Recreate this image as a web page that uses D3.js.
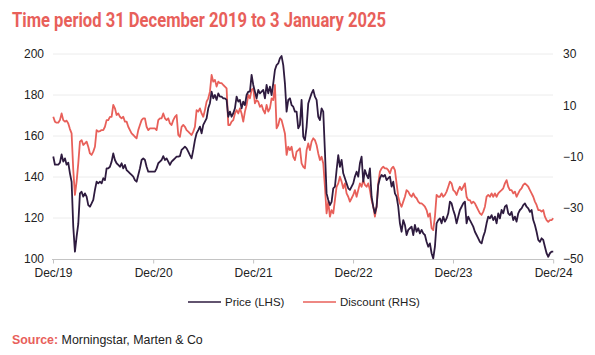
<!DOCTYPE html>
<html>
<head>
<meta charset="utf-8">
<script src="https://cdn.jsdelivr.net/npm/d3@7"></script>
<style>
  html, body { margin: 0; padding: 0; background: #fff; }
  svg { display: block; }
</style>
</head>
<body>
<svg id="chart" width="595" height="355"></svg>
<script>
// ---- DATA ----
const titleText = "Time period 31 December 2019 to 3 January 2025";
const seriesNames = ["Price (LHS)", "Discount (RHS)"];
const startDate = "2020-01-01";          // first sample
const endDate = "2025-01-03";
const sampleStepDays = 6.0875;           // ~weekly samples
const xTickDates = ["2019-12-31", "2020-12-31", "2021-12-31", "2022-12-31", "2023-12-31", "2024-12-31"];
const xTickLabels = ["Dec/19", "Dec/20", "Dec/21", "Dec/22", "Dec/23", "Dec/24"];
const leftTicks = [100, 120, 140, 160, 180, 200];
const rightTicks = [-50, -30, -10, 10, 30];

const price = [
  150,146,146,146,147,151,147.5,149.1,146,147,141.8,137.7,115.8,103.6,110.9,117.1,132,132.8,130.4,132,
  130.4,126.3,125.5,127.1,128.8,133.7,137.7,136.9,137.7,136.9,139.4,138.5,144.2,144.2,145,147.5,151.5,148.3,146.7,145.9,
  145,146.7,144.2,145.9,143.4,142.6,141.8,141,140.2,138.5,137.7,141,144.2,148.3,149.1,148.3,145,142.6,142.6,142.6,
  142.6,142.6,144.2,146.7,147.5,148.3,150.2,148.3,149.1,147.5,145.9,147.5,148.3,149.1,149.9,149.9,150.2,
  153.2,154,154.8,154,152.4,150.7,149.1,153.2,158,161.3,162.9,164.6,161.3,165.4,167,168.6,173.5,176,181.6,178.4,
  180,177.6,180.8,179.2,179.2,178.4,178.4,177.6,169.4,171.9,169.4,171.1,173.5,179.2,176.8,177.6,173.5,176.8,175.1,180,
  181.6,181.6,189.8,184.9,181.6,178.4,182.5,180.8,181.6,182.5,178.4,184.9,180.8,184.1,180,185.7,192.2,194.6,195.4,197.9,
  199,194.6,185.7,171.9,177.6,178.4,175.1,174.3,171.9,171.9,163.7,165.4,177.6,159.7,158,
  164.5,175.9,178.4,180.8,182.5,179.2,177.6,169.4,167.8,173.5,171.9,152.4,132,128.8,126.3,127.9,134.5,135.3,143.4,150.7,
  145,148.3,141.8,139.4,136.9,134.5,133.7,135.3,136.9,140.2,142.6,140.2,146.7,149.9,137.7,143.4,141,139.4,144.2,130.4,
  125.5,122.3,125.5,136.1,139.4,141,140.2,141,138.5,139.4,140.2,135.3,137.7,132,130.4,125.5,117.4,113.3,119,116.6,
  111.7,114.2,115,115.8,111.7,116.6,113.3,115,112.5,114.2,112.5,111.7,108.4,106,107.6,
  102.8,100.3,106,117.4,119,119.8,117.4,120.7,118.2,119.8,122.3,128,127.1,123.9,121.4,117.4,120.7,123.9,125.5,127.1,
  128,117.4,120.7,119,117.4,115.8,113.3,111.7,110.1,108.4,107.6,110.9,113.3,117.4,120.7,119.8,121.4,119,120.7,117.4,
  122.3,119.8,123.9,122.3,125.5,126.3,122.3,121.4,123,119,120.7,118.2,122.3,123.9,124.7,126.3,127.1,125.5,124.7,123,
  123.9,119,116.6,113.3,109.3,108.4,110.1,109.3,106,102.8,101.1,102.8,103.6,103.6
];

const discount = [
  5.5,3.6,3.2,3.2,4.2,6.8,4.2,3.6,4,2.9,0.7,-1,-15.3,-25,-19.8,-12.7,-4.2,-3.6,-5.5,-4.9,
  -4.2,-6.2,-8.8,-9.4,-8.1,-6.2,0.3,-0.3,-0.1,0.3,0.3,1.6,4.2,4.2,5.5,5.5,10.1,8.8,6.2,6.8,
  5.5,4.9,5.5,3.6,3.6,1.6,0.3,-1,-1.6,-2.3,-2.9,0.3,2.3,4.2,4.9,4.9,1.6,0.3,1,1,
  1,1,0.3,4.2,4.9,4.9,6.8,4.9,4.2,4.9,2.9,2.3,4.2,5.5,6.2,-1.6,-2.3,
  1.6,2.3,1.6,0.3,-0.3,-1,-1.6,-0.3,1.6,8.1,7.5,8.8,6.8,5.5,8.1,11.4,12.7,15.3,21.8,19.2,
  19.9,17.3,19.2,18.6,18.6,17.9,17.3,16.6,2.3,2.3,3.6,4.2,6.8,8.1,6.8,8.8,6.8,3.6,7.5,10.1,
  14,12.7,16,16.6,10.7,12,11.4,9.4,10.1,8.1,6.8,10.1,7.5,8.8,12.7,12,17.9,1,2.3,4.9,
  4.2,1.6,-1,-9.4,-6.2,-7.5,-6.2,-10.1,-11.4,-8.1,-7.5,-6.8,-12.7,-14,-14.6,
  -7.5,-4.9,-7.5,-4.2,-2.9,-3.6,-5.5,-8.8,-11.4,-10.1,-12.7,-21.8,-32.2,-27.6,-33.5,-30.9,-32.2,-27,-21.8,-20.5,
  -17.9,-19.8,-22.4,-20.5,-24.4,-25.7,-27.6,-26.3,-25,-23.1,-25.7,-23.1,-20.5,-21.8,-19.2,-21.1,-21.8,-20.5,-23.1,-27,
  -29.6,-33.5,-29.6,-20.5,-15.9,-14.6,-14,-14.6,-14.6,-15.3,-16.6,-14.6,-14,-15.3,-20.5,-25.7,-28.3,-29.6,-27.6,-25.7,
  -23.1,-23.7,-25,-25.7,-24.4,-25.7,-26.3,-27.6,-28.3,-28.3,-28.9,-29.6,-30.9,-33.5,-32.2,
  -38,-38.7,-33.5,-25,-25.7,-25.7,-24.4,-25.7,-25,-23.7,-21.8,-19.8,-20.5,-23.1,-23.7,-25,-23.1,-21.8,-23.1,-21.8,
  -20.5,-25.7,-27,-27,-28.3,-27.6,-28.3,-29.6,-30.9,-32.2,-32.8,-31.5,-29.6,-25.7,-25,-25.7,-24.4,-25.7,-24.4,-25.7,
  -24.4,-23.7,-23.1,-22.4,-20.5,-19.2,-21.8,-23.1,-23.1,-24.4,-23.7,-25.7,-24.4,-23.1,-22.4,-21.1,-20.5,-21.1,-21.8,-23.1,
  -24.4,-25.7,-27.6,-28.9,-30.9,-30.9,-31.5,-30.9,-33.5,-34.8,-35.5,-34.8,-34.8,-34.1
];

// ---- STYLE ----
const coral = "#E8605A";
const plum = "#2E1B3F";
const textColor = "#222";
const gridColor = "#ececec";
const axisColor = "#c4c4c4";
const fontFamily = "'Liberation Sans', Arial, sans-serif";

const svg = d3.select("#chart");
const parse = d3.utcParse("%Y-%m-%d");
const t0 = parse(startDate).getTime();
const dates = price.map((_, i) => new Date(t0 + i * sampleStepDays * 86400000));

const x = d3.scaleUtc()
  .domain([parse("2019-12-31"), parse(endDate)])
  .range([53, 554]);
const yL = d3.scaleLinear().domain([100, 200]).range([259, 54]);
const yR = d3.scaleLinear().domain([-50, 30]).range([259, 54]);

// Title
svg.append("text")
  .attr("x", 12).attr("y", 27.3)
  .attr("font-family", "Roboto, 'Liberation Sans', sans-serif")
  .attr("font-weight", "bold")
  .attr("font-size", 19.5)
  .attr("fill", coral)
  .attr("textLength", 374)
  .attr("lengthAdjust", "spacingAndGlyphs")
  .text(titleText);

// Gridlines (left axis)
svg.append("g").selectAll("line")
  .data(leftTicks.filter(d => d !== 100))
  .join("line")
  .attr("x1", 53).attr("x2", 553)
  .attr("y1", d => yL(d)).attr("y2", d => yL(d))
  .attr("stroke", gridColor).attr("stroke-width", 1);

// Left axis labels
const gL = svg.append("g")
  .attr("transform", "translate(44,0)")
  .call(d3.axisLeft(yL).tickValues(leftTicks).tickSize(0).tickPadding(0));
gL.select(".domain").remove();
gL.selectAll("text").attr("font-family", fontFamily).attr("font-size", 12).attr("fill", textColor);

// Right axis labels
const gR = svg.append("g")
  .attr("transform", "translate(563,0)")
  .call(d3.axisRight(yR).tickValues(rightTicks).tickSize(0).tickPadding(0));
gR.select(".domain").remove();
gR.selectAll("text").attr("font-family", fontFamily).attr("font-size", 12).attr("fill", textColor);

// X axis
const gX = svg.append("g")
  .attr("transform", "translate(0,259.5)")
  .call(d3.axisBottom(x)
    .tickValues(xTickDates.map(parse))
    .tickFormat((d, i) => xTickLabels[i])
    .tickSize(4).tickSizeOuter(0).tickPadding(5));
gX.select(".domain").attr("stroke", axisColor).attr("d", "M52,0H553.5");
gX.selectAll(".tick line").attr("stroke", axisColor);
gX.selectAll("text").attr("font-family", fontFamily).attr("font-size", 12).attr("fill", textColor);

// Lines
const priceLine = d3.line().x((d, i) => x(dates[i])).y(d => yL(d));
const discLine = d3.line().x((d, i) => x(dates[i])).y(d => yR(d));

svg.append("path").datum(discount)
  .attr("d", discLine).attr("fill", "none")
  .attr("stroke", coral).attr("stroke-width", 1.8).attr("stroke-linejoin", "round");
svg.append("path").datum(price)
  .attr("d", priceLine).attr("fill", "none")
  .attr("stroke", plum).attr("stroke-width", 1.8).attr("stroke-linejoin", "round");

// Legend
const legend = [
  { name: seriesNames[0], color: plum, x: 188 },
  { name: seriesNames[1], color: coral, x: 303 }
];
const lg = svg.append("g");
legend.forEach(l => {
  lg.append("line").attr("x1", l.x).attr("x2", l.x + 33).attr("y1", 302).attr("y2", 302)
    .attr("stroke", l.color).attr("stroke-width", 1.5);
  lg.append("text").attr("x", l.x + 37).attr("y", 306)
    .attr("font-family", fontFamily).attr("font-size", 11.5).attr("fill", textColor)
    .text(l.name);
});

// Source
const src = svg.append("text").attr("x", 12).attr("y", 344.3)
  .attr("font-family", fontFamily).attr("font-size", 12.4);
src.append("tspan").attr("font-weight", "bold").attr("fill", coral).text("Source:");
src.append("tspan").attr("fill", textColor).text(" Morningstar, Marten & Co");
</script>
</body>
</html>
